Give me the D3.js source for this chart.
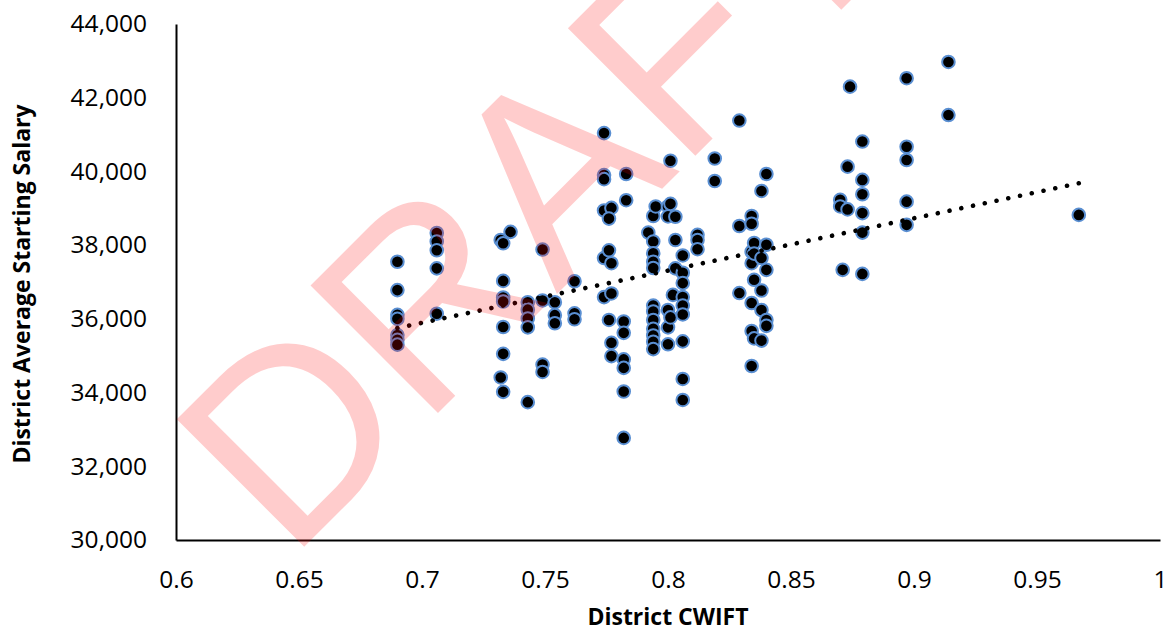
<!DOCTYPE html>
<html><head><meta charset="utf-8">
<script src="https://cdn.jsdelivr.net/npm/d3@7"></script>
<style>body{margin:0;background:#fff}svg{display:block}</style>
</head><body>
<svg id="c" width="1167" height="633"></svg>
<script>
// ---- data ----
const cwift = [
 0.690,0.690,0.690,0.690,0.690,0.690,0.690,
 0.706,0.706,0.706,0.706,0.706,
 0.736,0.732,0.732,
 0.733,0.733,0.733,0.733,0.733,0.733,0.733,
 0.743,0.743,0.743,0.743,0.743,
 0.749,0.749,0.749,0.749,
 0.754,0.754,0.754,
 0.762,0.762,0.762,
 0.774,0.774,0.774,0.774,0.774,0.774,
 0.777,0.777,0.777,0.777,0.777,
 0.776,0.776,0.776,
 0.783,0.783,
 0.782,0.782,0.782,0.782,0.782,0.782,
 0.792,
 0.794,0.794,0.794,0.794,0.794,0.794,0.794,0.794,0.794,0.794,0.794,0.794,
 0.795,
 0.800,0.800,0.800,0.800,0.800,
 0.801,0.801,0.801,
 0.803,0.803,0.803,
 0.802,
 0.806,0.806,0.806,0.806,0.806,0.806,0.806,0.806,0.806,
 0.812,0.812,0.812,
 0.819,0.819,
 0.829,0.829,0.829,
 0.834,0.834,0.834,0.834,0.834,0.834,0.834,
 0.835,0.835,0.835,0.835,
 0.838,0.838,0.838,0.838,0.838,
 0.840,0.840,0.840,0.840,0.840,
 0.870,0.870,0.871,
 0.873,0.873,
 0.874,
 0.879,0.879,0.879,0.879,0.879,0.879,
 0.897,0.897,0.897,0.897,0.897,
 0.914,0.914,
 0.967
];
const salary = [
 37550,36780,36110,36000,35560,35430,35300,
 38330,38100,37860,37370,36140,
 38360,38140,34410,
 38050,37030,36580,36470,35780,35050,34020,
 36450,36250,36010,35770,33740,
 37880,36500,34760,34560,
 36450,36100,35880,
 37020,36150,35990,
 41040,39900,39790,38940,37650,36590,
 39010,37510,36690,35350,34990,
 38720,37860,35970,
 39930,39220,
 35930,35620,34900,34670,34030,32770,
 38340,
 38790,38100,37780,37550,37380,36360,36200,35970,35730,35550,35380,35180,
 39050,
 39050,38780,36240,35770,35310,
 40290,39120,36040,
 38770,38140,37370,
 36650,
 37720,37250,36970,36590,36360,36120,35390,34370,33800,
 38280,38140,37890,
 40350,39740,
 41380,38520,36700,
 38790,38580,37820,37510,36430,35670,34720,
 38060,37770,37060,35470,
 39470,37650,36770,36240,35410,
 39930,38010,37330,35970,35810,
 39230,39050,37330,
 40130,38970,
 42300,
 40810,39770,39380,38870,38340,37220,
 42530,40670,40310,39180,38550,
 42970,41530,
 38820
];
// linear trendline as drawn in the picture (end values)
const trendCwift = [0.690, 0.967];
const trendSalary = [35750, 39680];

const xTicks = [0.6,0.65,0.7,0.75,0.8,0.85,0.9,0.95,1];
const xTickLabels = ["0.6","0.65","0.7","0.75","0.8","0.85","0.9","0.95","1"];
const yTicks = [30000,32000,34000,36000,38000,40000,42000,44000];
const yTickLabels = ["30,000","32,000","34,000","36,000","38,000","40,000","42,000","44,000"];
const xTitle = "District CWIFT";
const yTitle = "District Average Starting Salary";
const watermark = "DRAFT";

// ---- layout ----
const svg = d3.select("#c");
const L = 176, R = 1160, T = 24, B = 540;
const x = d3.scaleLinear().domain([0.6, 1]).range([L, R]);
const y = d3.scaleLinear().domain([30000, 44000]).range([B, T]);
const font = "'Open Sans', 'Noto Sans', sans-serif";

// axes
const xAxis = d3.axisBottom(x).tickValues(xTicks).tickSize(0)
  .tickFormat((d, i) => xTickLabels[i]).tickPadding(31);
const yAxis = d3.axisLeft(y).tickValues(yTicks).tickSize(0)
  .tickFormat((d, i) => yTickLabels[i]).tickPadding(29);

const gx = svg.append("g").attr("transform", `translate(0,${B})`).call(xAxis);
const gy = svg.append("g").attr("transform", `translate(${L},0)`).call(yAxis);
[gx, gy].forEach(g => {
  g.select(".domain").attr("stroke", "#000").attr("stroke-width", 2);
  g.selectAll("text").attr("font-family", font).attr("font-size", 24.5).attr("fill", "#000");
});

// titles
svg.append("text").attr("x", (L + R) / 2).attr("y", 625)
  .attr("text-anchor", "middle").attr("font-family", font).attr("font-weight", "bold")
  .attr("font-size", 23).text(xTitle);
svg.append("text").attr("transform", `translate(30,284) rotate(-90)`)
  .attr("text-anchor", "middle").attr("font-family", font).attr("font-weight", "bold")
  .attr("font-size", 23).text(yTitle);

// points
const pts = cwift.map((c, i) => ({ c, s: salary[i] }));
svg.append("g").selectAll("circle").data(pts).join("circle")
  .attr("cx", d => x(d.c)).attr("cy", d => y(d.s)).attr("r", 6.3)
  .attr("fill", "#000").attr("stroke", "#5a8fd2").attr("stroke-width", 2);

// trendline (dotted)
svg.append("path")
  .datum(trendCwift.map((c, i) => [c, trendSalary[i]]))
  .attr("d", d3.line().x(d => x(d[0])).y(d => y(d[1])))
  .attr("fill", "none").attr("stroke", "#000").attr("stroke-width", 4.6)
  .attr("stroke-linecap", "round").attr("stroke-dasharray", "0.01 12");

// watermark
svg.append("text").attr("transform", "translate(289,562) rotate(-45)")
  .attr("font-family", "'Liberation Sans', Arial, sans-serif").attr("font-size", 262)
  .attr("fill", "rgba(255,0,0,0.2)").text(watermark);
</script>
</body></html>
